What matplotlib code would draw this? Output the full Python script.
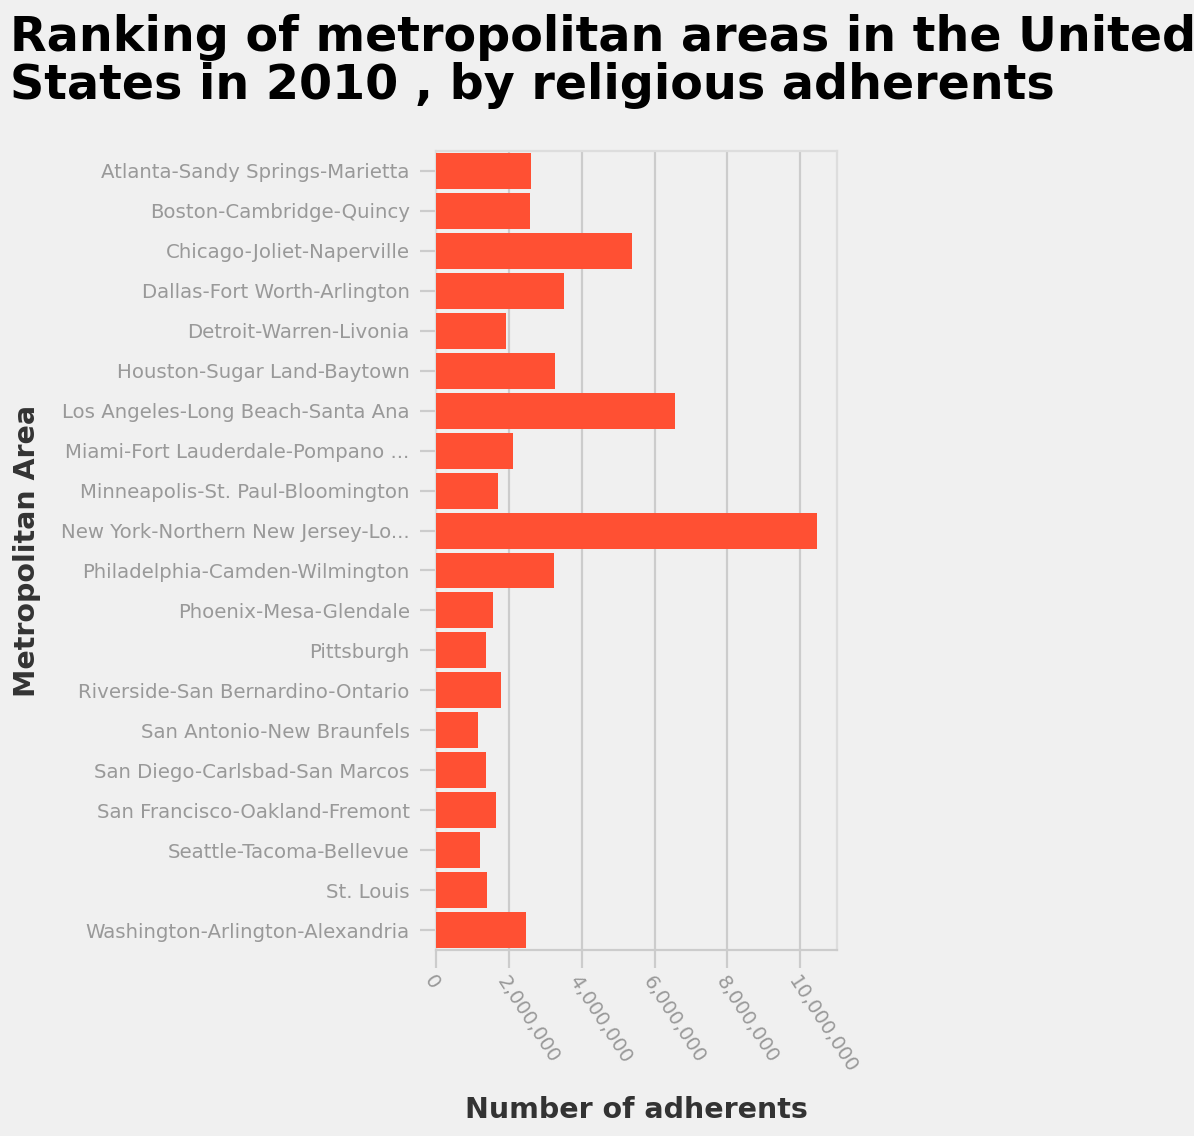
import matplotlib.pyplot as plt
from matplotlib.ticker import FuncFormatter

# metro areas, top to bottom as drawn
areas = [
    'Atlanta-Sandy Springs-Marietta',
    'Boston-Cambridge-Quincy',
    'Chicago-Joliet-Naperville',
    'Dallas-Fort Worth-Arlington',
    'Detroit-Warren-Livonia',
    'Houston-Sugar Land-Baytown',
    'Los Angeles-Long Beach-Santa Ana',
    'Miami-Fort Lauderdale-Pompano ...',
    'Minneapolis-St. Paul-Bloomington',
    'New York-Northern New Jersey-Lo...',
    'Philadelphia-Camden-Wilmington',
    'Phoenix-Mesa-Glendale',
    'Pittsburgh',
    'Riverside-San Bernardino-Ontario',
    'San Antonio-New Braunfels',
    'San Diego-Carlsbad-San Marcos',
    'San Francisco-Oakland-Fremont',
    'Seattle-Tacoma-Bellevue',
    'St. Louis',
    'Washington-Arlington-Alexandria',
]
adherents = [
    2600000, 2580000, 5390000, 3520000, 1910000,
    3270000, 6570000, 2110000, 1700000, 10470000,
    3240000, 1560000, 1360000, 1780000, 1150000,
    1360000, 1640000, 1220000, 1390000, 2470000,
]
x_ticks = [0, 2000000, 4000000, 6000000, 8000000, 10000000]

BG = '#f0f0f0'
BAR = '#ff5033'
GRID = '#cccccc'
LABEL = '#999999'

fig = plt.figure(figsize=(11.94, 11.36), dpi=100, facecolor=BG)
ax = fig.add_axes([0.3652, 0.1637, 0.3355, 0.7034], facecolor=BG)

pos = list(range(len(areas)))
ax.barh(pos, adherents, height=0.9, color=BAR, zorder=3)
ax.set_ylim(len(areas) - 0.5, -0.5)
ax.set_xlim(0, 11000000)

ax.set_yticks(pos)
ax.set_yticklabels(areas)
ax.set_xticks(x_ticks)
ax.xaxis.set_major_formatter(FuncFormatter(lambda v, p: '{:,}'.format(int(v))))

ax.grid(axis='x', color=GRID, linewidth=1.6, zorder=0)
for s in ax.spines.values():
    s.set_color('#dddddd')
    s.set_linewidth(1.6)
ax.spines['bottom'].set_color(GRID)

ax.tick_params(axis='y', length=11.5, width=1.6, color=GRID, labelcolor=LABEL,
               labelsize=14.2, pad=7.5)
ax.tick_params(axis='x', length=13, width=1.6, color=GRID, labelcolor=LABEL,
               labelsize=14.2, pad=3)
for lbl in ax.get_xticklabels():
    lbl.set_rotation(-57)
    lbl.set_ha('left')
    lbl.set_va('top')
    lbl.set_rotation_mode('anchor')

ax.set_xlabel('Number of adherents', fontsize=20.5, fontweight='bold',
              color='#333333')
ax.xaxis.set_label_coords(0.5, -0.183)
ax.set_ylabel('Metropolitan Area', fontsize=20.5, fontweight='bold',
              color='#333333')
ax.yaxis.set_label_coords(-0.985, 0.5)

fig.text(0.008, 0.988, 'Ranking of metropolitan areas in the United\n'
         'States in 2010 , by religious adherents',
         fontsize=34.3, fontweight='bold', color='black', ha='left', va='top',
         linespacing=1.03)

fig.savefig('out.png', dpi=100, facecolor=BG)
